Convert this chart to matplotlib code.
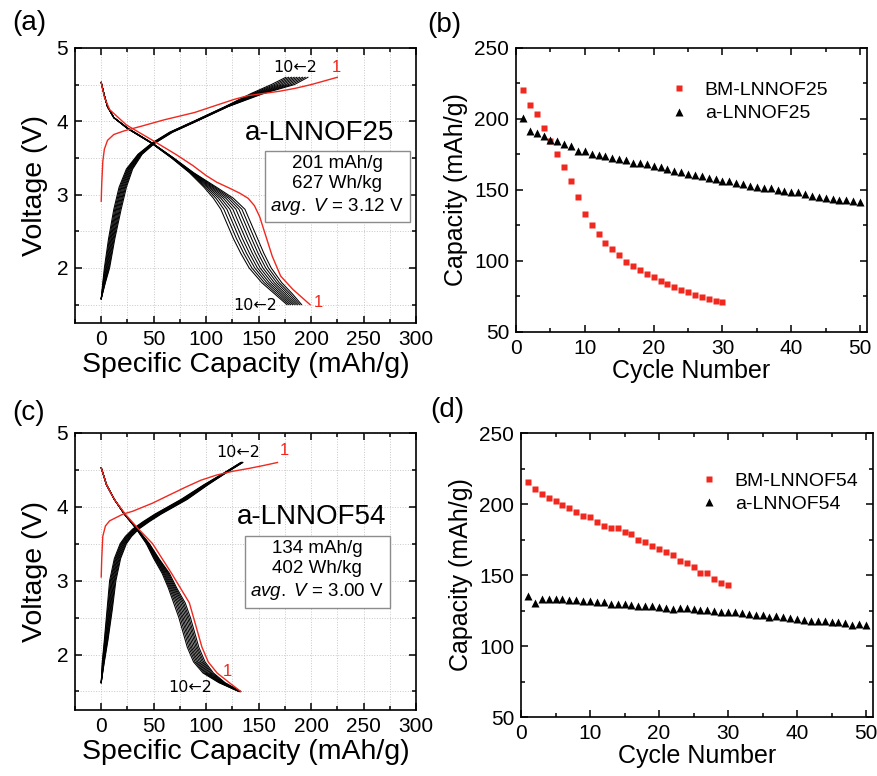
import matplotlib
matplotlib.use("Agg")
import matplotlib.pyplot as plt
from matplotlib.ticker import MultipleLocator

plt.rcParams['font.family'] = ['Liberation Sans', 'DejaVu Sans']
plt.rcParams['mathtext.fontset'] = 'custom'
plt.rcParams['mathtext.rm'] = 'Liberation Sans'
plt.rcParams['mathtext.it'] = 'Liberation Sans:italic'

RED = '#f0281e'

# ---------------- (a) a-LNNOF25 voltage profiles ----------------
# charge, cycles 2..10 : capacity (mAh/g) at these voltages
a_chg_v = [1.58, 1.80, 2.00, 2.40, 2.80, 3.10, 3.35, 3.55, 3.70, 3.85, 4.00, 4.20, 4.38, 4.50, 4.60]
a_chg_cap = [
    [0, 4.0, 8.0, 13.0, 19.0, 24.0, 30.0, 39.0, 51.0, 68.0, 91.0, 121.0, 155.0, 184.0, 197.0],
    [0, 3.7, 7.4, 12.3, 18.1, 23.1, 29.3, 38.5, 50.6, 67.6, 90.6, 120.6, 153.5, 181.3, 194.4],
    [0, 3.4, 6.8, 11.5, 17.3, 22.3, 28.5, 38.0, 50.3, 67.3, 90.3, 120.3, 152.0, 178.5, 191.8],
    [0, 3.1, 6.1, 10.8, 16.4, 21.4, 27.8, 37.5, 49.9, 66.9, 89.9, 119.9, 150.5, 175.8, 189.1],
    [0, 2.8, 5.5, 10.0, 15.5, 20.5, 27.0, 37.0, 49.5, 66.5, 89.5, 119.5, 149.0, 173.0, 186.5],
    [0, 2.4, 4.9, 9.3, 14.6, 19.6, 26.3, 36.5, 49.1, 66.1, 89.1, 119.1, 147.5, 170.3, 183.9],
    [0, 2.1, 4.3, 8.5, 13.8, 18.8, 25.5, 36.0, 48.8, 65.8, 88.8, 118.8, 146.0, 167.5, 181.3],
    [0, 1.8, 3.6, 7.8, 12.9, 17.9, 24.8, 35.5, 48.4, 65.4, 88.4, 118.4, 144.5, 164.8, 178.6],
    [0, 1.5, 3.0, 7.0, 12.0, 17.0, 24.0, 35.0, 48.0, 65.0, 88.0, 118.0, 143.0, 162.0, 176.0],
]
# discharge, cycles 2..10
a_dis_v = [4.53, 4.35, 4.20, 4.05, 3.90, 3.70, 3.50, 3.30, 3.10, 2.95, 2.80, 2.60, 2.40, 2.20, 2.00, 1.80, 1.65, 1.50]
a_dis_cap = [
    [0, 3, 6, 12, 26.0, 49.0, 69.0, 88.0, 110.0, 126.0, 137.0, 143.0, 149.0, 155.0, 162.0, 172.0, 182.0, 191.0],
    [0, 3, 6, 12, 25.9, 48.9, 68.8, 87.5, 108.5, 123.6, 134.1, 140.1, 146.1, 152.3, 159.4, 169.6, 179.9, 189.3],
    [0, 3, 6, 12, 25.8, 48.8, 68.5, 87.0, 107.0, 121.3, 131.3, 137.3, 143.3, 149.5, 156.8, 167.3, 177.8, 187.5],
    [0, 3, 6, 12, 25.6, 48.6, 68.3, 86.5, 105.5, 118.9, 128.4, 134.4, 140.4, 146.8, 154.1, 164.9, 175.6, 185.8],
    [0, 3, 6, 12, 25.5, 48.5, 68.0, 86.0, 104.0, 116.5, 125.5, 131.5, 137.5, 144.0, 151.5, 162.5, 173.5, 184.0],
    [0, 3, 6, 12, 25.4, 48.4, 67.8, 85.5, 102.5, 114.1, 122.6, 128.6, 134.6, 141.3, 148.9, 160.1, 171.4, 182.3],
    [0, 3, 6, 12, 25.3, 48.3, 67.5, 85.0, 101.0, 111.8, 119.8, 125.8, 131.8, 138.5, 146.3, 157.8, 169.3, 180.5],
    [0, 3, 6, 12, 25.1, 48.1, 67.3, 84.5, 99.5, 109.4, 116.9, 122.9, 128.9, 135.8, 143.6, 155.4, 167.1, 178.8],
    [0, 3, 6, 12, 25.0, 48.0, 67.0, 84.0, 98.0, 107.0, 114.0, 120.0, 126.0, 133.0, 141.0, 153.0, 165.0, 177.0],
]
# first cycle (red)
a_red_chg_cap = [0, 0.5, 1.5, 3, 6, 12, 22, 40, 60, 89, 110, 127, 140, 155, 170, 185, 200, 215, 225]
a_red_chg_v = [2.91, 3.15, 3.45, 3.62, 3.74, 3.82, 3.87, 3.94, 4.02, 4.12, 4.22, 4.30, 4.35, 4.38, 4.41, 4.45, 4.50, 4.56, 4.60]
a_red_dis_cap = [0, 3, 8, 24, 49, 71, 87, 100, 110, 122, 132, 140, 146, 151, 157, 163, 171, 182.5, 199]
a_red_dis_v = [4.53, 4.33, 4.16, 3.95, 3.74, 3.55, 3.40, 3.26, 3.17, 3.09, 3.02, 2.95, 2.85, 2.70, 2.43, 2.16, 1.89, 1.71, 1.50]

# ---------------- (c) a-LNNOF54 voltage profiles ----------------
c_chg_v = [1.62, 1.90, 2.20, 2.60, 3.00, 3.30, 3.50, 3.60, 3.70, 3.80, 3.90, 4.10, 4.30, 4.45, 4.60]
c_chg_cap = [
    [0, 3.00, 6.5, 10.5, 14.0, 18.5, 24.0, 29.0, 36.0, 46.0, 57.0, 82.0, 102.0, 118.0, 135.0],
    [0, 2.75, 6.1, 9.9, 13.3, 17.8, 23.3, 28.3, 35.3, 45.3, 56.3, 81.3, 101.5, 117.8, 134.8],
    [0, 2.50, 5.6, 9.3, 12.5, 17.0, 22.5, 27.5, 34.5, 44.5, 55.5, 80.5, 101.0, 117.5, 134.5],
    [0, 2.25, 5.2, 8.6, 11.8, 16.3, 21.8, 26.8, 33.8, 43.8, 54.8, 79.8, 100.5, 117.3, 134.3],
    [0, 2.00, 4.8, 8.0, 11.0, 15.5, 21.0, 26.0, 33.0, 43.0, 54.0, 79.0, 100.0, 117.0, 134.0],
    [0, 1.75, 4.3, 7.4, 10.3, 14.8, 20.3, 25.3, 32.3, 42.3, 53.3, 78.3, 99.5, 116.8, 133.8],
    [0, 1.50, 3.9, 6.8, 9.5, 14.0, 19.5, 24.5, 31.5, 41.5, 52.5, 77.5, 99.0, 116.5, 133.5],
    [0, 1.25, 3.4, 6.1, 8.8, 13.3, 18.8, 23.8, 30.8, 40.8, 51.8, 76.8, 98.5, 116.3, 133.3],
    [0, 1.00, 3.0, 5.5, 8.0, 12.5, 18.0, 23.0, 30.0, 40.0, 51.0, 76.0, 98.0, 116.0, 133.0],
]
c_dis_v = [4.53, 4.30, 4.10, 3.90, 3.70, 3.50, 3.30, 3.10, 2.90, 2.70, 2.50, 2.30, 2.10, 1.90, 1.75, 1.62, 1.50]
c_dis_cap = [
    [0, 5, 12.5, 22.5, 34.5, 46.0, 55.0, 65.0, 72.0, 80.0, 85.0, 89.0, 93.0, 99.0, 107.0, 118.0, 133.0],
    [0, 5, 12.5, 22.4, 34.4, 45.6, 54.4, 64.1, 71.0, 78.6, 83.6, 87.6, 91.6, 97.6, 105.8, 117.3, 132.8],
    [0, 5, 12.5, 22.4, 34.3, 45.3, 53.8, 63.3, 70.0, 77.3, 82.3, 86.3, 90.3, 96.3, 104.5, 116.5, 132.5],
    [0, 5, 12.5, 22.3, 34.1, 44.9, 53.1, 62.4, 69.0, 75.9, 80.9, 84.9, 88.9, 94.9, 103.3, 115.8, 132.3],
    [0, 5, 12.5, 22.3, 34.0, 44.5, 52.5, 61.5, 68.0, 74.5, 79.5, 83.5, 87.5, 93.5, 102.0, 115.0, 132.0],
    [0, 5, 12.5, 22.2, 33.9, 44.1, 51.9, 60.6, 67.0, 73.1, 78.1, 82.1, 86.1, 92.1, 100.8, 114.3, 131.8],
    [0, 5, 12.5, 22.1, 33.8, 43.8, 51.3, 59.8, 66.0, 71.8, 76.8, 80.8, 84.8, 90.8, 99.5, 113.5, 131.5],
    [0, 5, 12.5, 22.1, 33.6, 43.4, 50.6, 58.9, 65.0, 70.4, 75.4, 79.4, 83.4, 89.4, 98.3, 112.8, 131.3],
    [0, 5, 12.5, 22.0, 33.5, 43.0, 50.0, 58.0, 64.0, 69.0, 74.0, 78.0, 82.0, 88.0, 97.0, 112.0, 131.0],
]
c_red_chg_cap = [0, 0.5, 1.5, 4, 8, 20.6, 30, 49, 62, 81, 95, 110, 125, 141, 155, 168]
c_red_chg_v = [3.05, 3.30, 3.60, 3.74, 3.81, 3.90, 3.94, 4.05, 4.14, 4.27, 4.36, 4.43, 4.48, 4.52, 4.56, 4.60]
c_red_dis_cap = [0, 5, 12.5, 23, 35.5, 49, 58, 67, 75.5, 84, 88, 92, 96, 102, 110.5, 122, 133]
c_red_dis_v = [4.53, 4.30, 4.10, 3.90, 3.70, 3.50, 3.30, 3.10, 2.90, 2.70, 2.50, 2.30, 2.10, 1.90, 1.75, 1.62, 1.50]

# ---------------- (b) cycling, LNNOF25 ----------------
bm25 = [220.7, 209.6, 203.5, 193.9, 184.3, 175.6, 166.0, 156.3, 144.8, 133.1,
        125.4, 118.8, 112.9, 108.5, 104.0, 99.3, 96.7, 93.4, 91.1, 88.5,
        85.7, 83.8, 81.7, 79.3, 78.2, 76.3, 74.4, 73.2, 72.0, 70.9]
a25 = [200.7, 191.5, 190.4, 187.8, 185.4, 184.3, 182.4, 180.8, 177.7, 177.7,
       175.6, 174.4, 173.7, 172.3, 171.8, 171.1, 169.0, 168.8, 168.1, 166.9,
       166.2, 164.6, 163.1, 162.7, 161.3, 160.6, 160.1, 158.5, 158.0, 156.6,
       156.6, 155.2, 154.5, 152.6, 151.9, 151.6, 151.2, 150.0, 149.1, 148.4,
       148.6, 147.0, 145.5, 145.1, 144.4, 143.4, 143.2, 143.0, 142.5, 141.8]

# ---------------- (d) cycling, LNNOF54 ----------------
bm54 = [215.3, 210.6, 207.0, 204.2, 201.9, 199.1, 197.0, 194.1, 191.8, 190.6,
        187.3, 184.7, 183.1, 182.9, 180.0, 178.6, 174.6, 173.2, 170.4, 168.5,
        166.0, 164.1, 159.9, 158.7, 155.4, 151.4, 151.4, 147.2, 144.4, 143.0]
a54 = [135.0, 130.3, 133.3, 133.1, 133.1, 133.1, 132.2, 132.2, 131.9, 131.7,
       130.8, 131.2, 129.8, 129.8, 129.3, 128.6, 127.9, 128.2, 128.2, 127.7,
       127.0, 126.1, 126.5, 126.8, 126.1, 125.6, 125.1, 124.4, 124.2, 123.9,
       123.7, 123.5, 122.3, 122.1, 121.6, 120.2, 120.9, 120.2, 119.5, 119.0,
       118.3, 117.8, 117.6, 117.6, 116.9, 116.9, 116.0, 114.8, 115.5, 114.6]


def style_common(ax, tick_size):
    ax.tick_params(which='both', direction='in', top=True, right=True,
                   labelsize=tick_size, width=1.1, pad=5)
    ax.tick_params(which='major', length=5)
    ax.tick_params(which='minor', length=3)
    for s in ax.spines.values():
        s.set_linewidth(1.2)


def voltage_panel(ax, chg_v, chg_cap, dis_v, dis_cap, rc_cap, rc_v, rd_cap, rd_v):
    for caps in chg_cap:
        ax.plot(caps, chg_v, color='black', lw=0.75)
    for caps in dis_cap:
        ax.plot(caps, dis_v, color='black', lw=0.75)
    ax.plot(rc_cap, rc_v, color=RED, lw=1.0)
    ax.plot(rd_cap, rd_v, color=RED, lw=1.0)
    ax.set_xlim(-25, 300)
    ax.set_ylim(1.25, 5)
    ax.xaxis.set_major_locator(MultipleLocator(50))
    ax.xaxis.set_minor_locator(MultipleLocator(25))
    ax.yaxis.set_major_locator(MultipleLocator(1))
    ax.yaxis.set_minor_locator(MultipleLocator(0.5))
    ax.grid(which='both', color='#c8c8c8', ls=':', lw=0.7)
    ax.set_axisbelow(True)
    ax.set_xlabel('Specific Capacity (mAh/g)', fontsize=20.5, labelpad=2)
    ax.set_ylabel('Voltage (V)', fontsize=20.5, labelpad=6)
    style_common(ax, 15)


def cycle_panel(ax, bm, am, bm_label, am_label, legend_anchor):
    ax.plot(range(1, len(bm) + 1), bm, 's', color=RED, ms=5, mec='none', label=bm_label)
    ax.plot(range(1, len(am) + 1), am, '^', color='black', ms=5.5, mec='none', label=am_label)
    ax.set_xlim(0, 51)
    ax.set_ylim(50, 250)
    ax.xaxis.set_major_locator(MultipleLocator(10))
    ax.xaxis.set_minor_locator(MultipleLocator(5))
    ax.yaxis.set_major_locator(MultipleLocator(50))
    ax.yaxis.set_minor_locator(MultipleLocator(25))
    ax.set_xlabel('Cycle Number', fontsize=18, labelpad=1)
    ax.set_ylabel('Capacity (mAh/g)', fontsize=18, labelpad=4)
    style_common(ax, 15)
    ax.legend(loc='upper left', bbox_to_anchor=legend_anchor, frameon=False,
              fontsize=14, handletextpad=0.7, borderaxespad=0, labelspacing=0.3,
              handlelength=1.2)


fig = plt.figure(figsize=(8.78, 7.76), dpi=100)
ax_a = fig.add_axes([0.0854, 0.5838, 0.3884, 0.3544])
ax_b = fig.add_axes([0.5877, 0.5722, 0.3998, 0.3660])
ax_c = fig.add_axes([0.0854, 0.0851, 0.3884, 0.3570])
ax_d = fig.add_axes([0.5934, 0.0760, 0.4009, 0.3660])

voltage_panel(ax_a, a_chg_v, a_chg_cap, a_dis_v, a_dis_cap,
              a_red_chg_cap, a_red_chg_v, a_red_dis_cap, a_red_dis_v)
voltage_panel(ax_c, c_chg_v, c_chg_cap, c_dis_v, c_dis_cap,
              c_red_chg_cap, c_red_chg_v, c_red_dis_cap, c_red_dis_v)
cycle_panel(ax_b, bm25, a25, 'BM-LNNOF25', 'a-LNNOF25', (0.41, 0.91))
cycle_panel(ax_d, bm54, a54, 'BM-LNNOF54', 'a-LNNOF54', (0.48, 0.89))

box = dict(boxstyle='square,pad=0.3', fc='white', ec='#8c8c8c', lw=1.0)
arrow_lbl = '10\u21902'
arrow_font = ['DejaVu Sans']

# annotations (a)
ax_a.text(185, 4.73, arrow_lbl, fontsize=11.5, family=arrow_font, ha='center', va='center')
ax_a.text(224, 4.73, '1', fontsize=12, color=RED, ha='center', va='center')
ax_a.text(147, 1.49, arrow_lbl, fontsize=11.5, family=arrow_font, ha='center', va='center')
ax_a.text(207, 1.53, '1', fontsize=12, color=RED, ha='center', va='center')
ax_a.text(208, 3.84, 'a-LNNOF25', fontsize=20, ha='center', va='center')
ax_a.text(225, 3.12, '201 mAh/g\n627 Wh/kg\n$\\mathit{avg.}$ $\\mathit{V}$ = 3.12 V',
          fontsize=13.5, ha='center', va='center', linespacing=1.25, bbox=box)

# annotations (c)
ax_c.text(131, 4.74, arrow_lbl, fontsize=11.5, family=arrow_font, ha='center', va='center')
ax_c.text(175, 4.76, '1', fontsize=12, color=RED, ha='center', va='center')
ax_c.text(85, 1.55, arrow_lbl, fontsize=11.5, family=arrow_font, ha='center', va='center')
ax_c.text(120, 1.77, '1', fontsize=12, color=RED, ha='center', va='center')
ax_c.text(201, 3.86, 'a-LNNOF54', fontsize=20, ha='center', va='center')
ax_c.text(206, 3.13, '134 mAh/g\n402 Wh/kg\n$\\mathit{avg.}$ $\\mathit{V}$ = 3.00 V',
          fontsize=13.5, ha='center', va='center', linespacing=1.25, bbox=box)

# panel letters
fig.text(12 / 878, 1 - 23 / 776, '(a)', fontsize=20, ha='left', va='center')
fig.text(427 / 878, 1 - 25 / 776, '(b)', fontsize=20, ha='left', va='center')
fig.text(12 / 878, 1 - 413 / 776, '(c)', fontsize=20, ha='left', va='center')
fig.text(430 / 878, 1 - 410 / 776, '(d)', fontsize=20, ha='left', va='center')

fig.savefig('out.png', dpi=100)
